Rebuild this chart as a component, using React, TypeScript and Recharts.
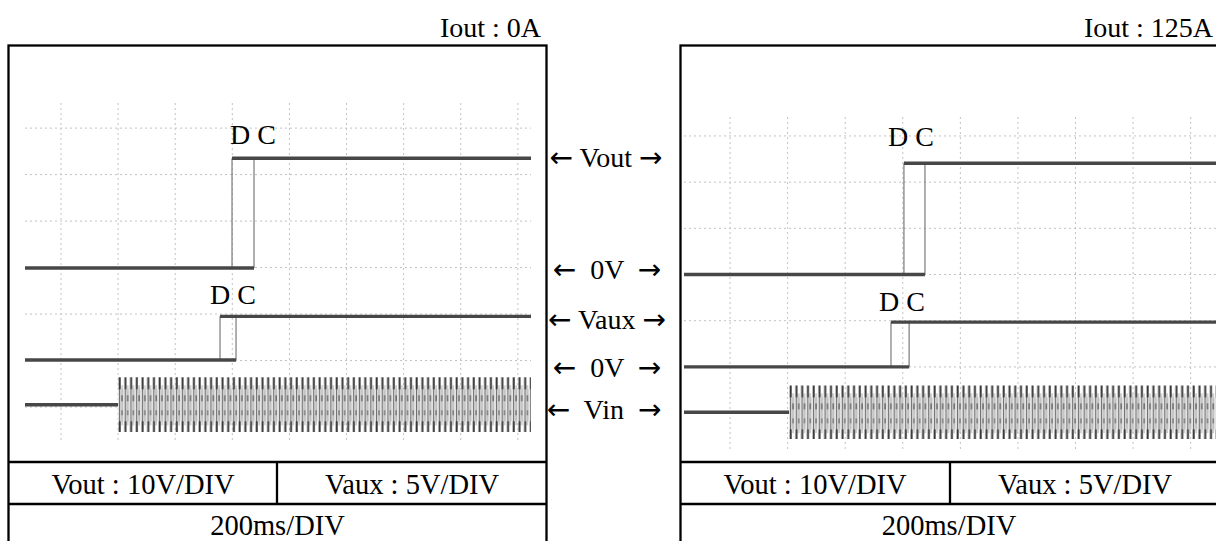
import { ComposedChart, Line, Area, XAxis, YAxis, CartesianGrid } from "recharts";

// scope screen: time in ms (200 ms/div), vertical position in divisions
const timeTicks = [200, 400, 600, 800, 1000, 1200, 1400, 1600, 1800];
const divTicks = [1, 2, 3, 4, 5, 6, 7];
const vinPeriodMs = 20; // 50 Hz mains

// Iout : 0A
const sweep0 = [74, 1846];
const vout0Edges = [799, 876];
const vout0Levels = [0, 23.6];
const vaux0Edges = [757, 813];
const vaux0Levels = [0, 4.7];
const vin0Start = 400;
const vin0Swing = 0.59;

// Iout : 125A
const sweep125 = [40, 1888];
const vout125Edges = [804, 877];
const vout125Levels = [0, 24.1];
const vaux125Edges = [759, 822];
const vaux125Levels = [0, 4.85];
const vin125Start = 405;
const vin125Swing = 0.58;

const FONT = '"Liberation Serif", "Times New Roman", serif';
const ARROW_FONT = '"DejaVu Sans", sans-serif';
const TRACE = "#474747";
const EDGE = "#7a7a7a";

type Pt = { t: number; v: number };

function stepTrace(edges: number[], levels: number[], ground: number, vPerDiv: number, t0: number, t1: number) {
  const lo = ground + levels[0] / vPerDiv;
  const hi = ground + levels[1] / vPerDiv;
  return {
    low: [{ t: t0, v: lo }, { t: edges[1], v: lo }] as Pt[],
    high: [{ t: edges[0], v: hi }, { t: t1, v: hi }] as Pt[],
    edgeA: [{ t: edges[0], v: lo }, { t: edges[0], v: hi }] as Pt[],
    edgeB: [{ t: edges[1], v: lo }, { t: edges[1], v: hi }] as Pt[],
  };
}

// map a value through whatever scale the grid generator hands over
function axisPos(axis: any, v: number, fallback: () => number) {
  const s = axis && axis.scale;
  if (typeof s === "function") return s(v);
  if (s && typeof s.map === "function") return s.map(v);
  return fallback();
}

interface PanelProps {
  id: string;
  left: number;
  top: number;
  width: number;
  height: number;
  sweep: number[];
  yDomain: number[];
  ground: { vout: number; vaux: number; vin: number };
  voutEdges: number[];
  voutLevels: number[];
  vauxEdges: number[];
  vauxLevels: number[];
  vinStart: number;
  vinSwing: number;
}

function ScopePanel(p: PanelProps) {
  const [t0, t1] = p.sweep;
  const [y0, y1] = p.yDomain;
  const vout = stepTrace(p.voutEdges, p.voutLevels, p.ground.vout, 10, t0, t1);
  const vaux = stepTrace(p.vauxEdges, p.vauxLevels, p.ground.vaux, 5, t0, t1);
  const vinFlat = [{ t: t0, v: p.ground.vin }, { t: p.vinStart, v: p.ground.vin }];
  const band = [p.ground.vin - p.vinSwing, p.ground.vin + p.vinSwing];
  const vinBand = [{ t: p.vinStart, band }, { t: t1, band }];
  const cycles = (t1 - p.vinStart) / vinPeriodMs;

  const vGrid = ({ xAxis, offset }: any) =>
    timeTicks.map((t) => axisPos(xAxis, t, () => offset.left + ((t - t0) / (t1 - t0)) * offset.width));
  const hGrid = ({ yAxis, offset }: any) =>
    divTicks.map((d) => axisPos(yAxis, d, () => offset.top + ((y1 - d) / (y1 - y0)) * offset.height));

  const thick = (data: Pt[], key: string) => (
    <Line key={key} data={data} dataKey="v" stroke={TRACE} strokeWidth={3.4} dot={false} isAnimationActive={false} />
  );
  const thin = (data: Pt[], key: string) => (
    <Line key={key} data={data} dataKey="v" stroke={EDGE} strokeWidth={1.2} dot={false} isAnimationActive={false} />
  );

  return (
    <div style={{ position: "absolute", left: p.left, top: p.top }}>
      <ComposedChart width={p.width} height={p.height} margin={{ top: 0, right: 0, bottom: 0, left: 0 }}>
        <defs>
          <pattern id={p.id} patternUnits="objectBoundingBox" x={0} y={0} width={1 / cycles} height={1}>
            <rect x={0} y={12} width={6} height={32} fill="#e2e2e2" />
            <line x1={1.5} y1={0} x2={1.5} y2={56} stroke="#707070" strokeWidth={1.1} />
            <line x1={3.9} y1={8} x2={3.9} y2={48} stroke="#a8a8a8" strokeWidth={1} />
            <rect x={0.6} y={0} width={2} height={12} fill="#383838" />
            <rect x={0.6} y={44} width={2} height={12} fill="#383838" />
            <rect x={3.2} y={18} width={1.5} height={6} fill="#6a6a6a" />
            <rect x={3.2} y={33} width={1.5} height={5} fill="#7a7a7a" />
          </pattern>
        </defs>
        <XAxis type="number" dataKey="t" domain={p.sweep} ticks={timeTicks} hide allowDataOverflow />
        <YAxis type="number" domain={p.yDomain} ticks={divTicks} hide allowDataOverflow />
        <CartesianGrid
          stroke="#c2c2c2"
          strokeDasharray="2 3"
          verticalCoordinatesGenerator={vGrid}
          horizontalCoordinatesGenerator={hGrid}
        />
        <Area data={vinBand} dataKey="band" stroke="none" fill={`url(#${p.id})`} fillOpacity={1} isAnimationActive={false} />
        {thick(vinFlat, "vinFlat")}
        {thin(vout.edgeA, "voA")}
        {thin(vout.edgeB, "voB")}
        {thick(vout.low, "voL")}
        {thick(vout.high, "voH")}
        {thin(vaux.edgeA, "vaA")}
        {thin(vaux.edgeB, "vaB")}
        {thick(vaux.low, "vaL")}
        {thick(vaux.high, "vaH")}
      </ComposedChart>
    </div>
  );
}

function Frame({ x, cellX }: { x: number; cellX: number }) {
  return (
    <g stroke="#000" strokeWidth={2.3} fill="none">
      <rect x={x} y={45.5} width={538} height={600} />
      <line x1={x} y1={462} x2={x + 538} y2={462} />
      <line x1={x} y1={504} x2={x + 538} y2={504} />
      <line x1={cellX} y1={462} x2={cellX} y2={504} />
    </g>
  );
}

const txt = { fontFamily: FONT, fontSize: 28, fill: "#000" } as const;

function ArrowLabel({ x, y, label }: { x: number; y: number; label: string }) {
  return (
    <text {...txt} x={x} y={y} textAnchor="middle" style={{ whiteSpace: "pre" }}>
      <tspan fontFamily={ARROW_FONT} fontSize={28}>←</tspan>
      {label}
      <tspan fontFamily={ARROW_FONT} fontSize={28}>→</tspan>
    </text>
  );
}

export default function App() {
  return (
    <div style={{ position: "absolute", left: 0, top: 0, width: 1216, height: 541, overflow: "hidden", background: "#fff" }}>
      <ScopePanel
        id="vin0"
        left={25}
        top={103}
        width={506}
        height={340}
        sweep={sweep0}
        yDomain={[0.226, 7.54]}
        ground={{ vout: 3.99, vaux: 2.01, vin: 1.05 }}
        voutEdges={vout0Edges}
        voutLevels={vout0Levels}
        vauxEdges={vaux0Edges}
        vauxLevels={vaux0Levels}
        vinStart={vin0Start}
        vinSwing={vin0Swing}
      />
      <ScopePanel
        id="vin125"
        left={684}
        top={117}
        width={532}
        height={334}
        sweep={sweep125}
        yDomain={[0.18, 7.41]}
        ground={{ vout: 4.0, vaux: 2.0, vin: 1.02 }}
        voutEdges={vout125Edges}
        voutLevels={vout125Levels}
        vauxEdges={vaux125Edges}
        vauxLevels={vaux125Levels}
        vinStart={vin125Start}
        vinSwing={vin125Swing}
      />
      <svg width={1216} height={541} style={{ position: "absolute", left: 0, top: 0, pointerEvents: "none" }}>
        <Frame x={8.5} cellX={277} />
        <Frame x={680.5} cellX={950} />

        <text {...txt} x={541} y={37} textAnchor="end">Iout : 0A</text>
        <text {...txt} x={1213} y={37} textAnchor="end">Iout : 125A</text>

        <text {...txt} x={230} y={144}>D C</text>
        <text {...txt} x={210} y={304}>D C</text>
        <text {...txt} x={888} y={146}>D C</text>
        <text {...txt} x={879} y={311}>D C</text>

        <ArrowLabel x={606} y={167} label=" Vout " />
        <ArrowLabel x={607} y={279} label="  0V  " />
        <ArrowLabel x={607} y={329} label=" Vaux " />
        <ArrowLabel x={607} y={377} label="  0V  " />
        <ArrowLabel x={604} y={419} label="  Vin  " />

        <text {...txt} fontSize={28.5} x={143} y={494} textAnchor="middle">Vout : 10V/DIV</text>
        <text {...txt} fontSize={28.5} x={412} y={494} textAnchor="middle">Vaux : 5V/DIV</text>
        <text {...txt} fontSize={28.5} x={277.5} y={535} textAnchor="middle">200ms/DIV</text>
        <text {...txt} fontSize={28.5} x={815} y={494} textAnchor="middle">Vout : 10V/DIV</text>
        <text {...txt} fontSize={28.5} x={1085} y={494} textAnchor="middle">Vaux : 5V/DIV</text>
        <text {...txt} fontSize={28.5} x={949} y={535} textAnchor="middle">200ms/DIV</text>
      </svg>
    </div>
  );
}
